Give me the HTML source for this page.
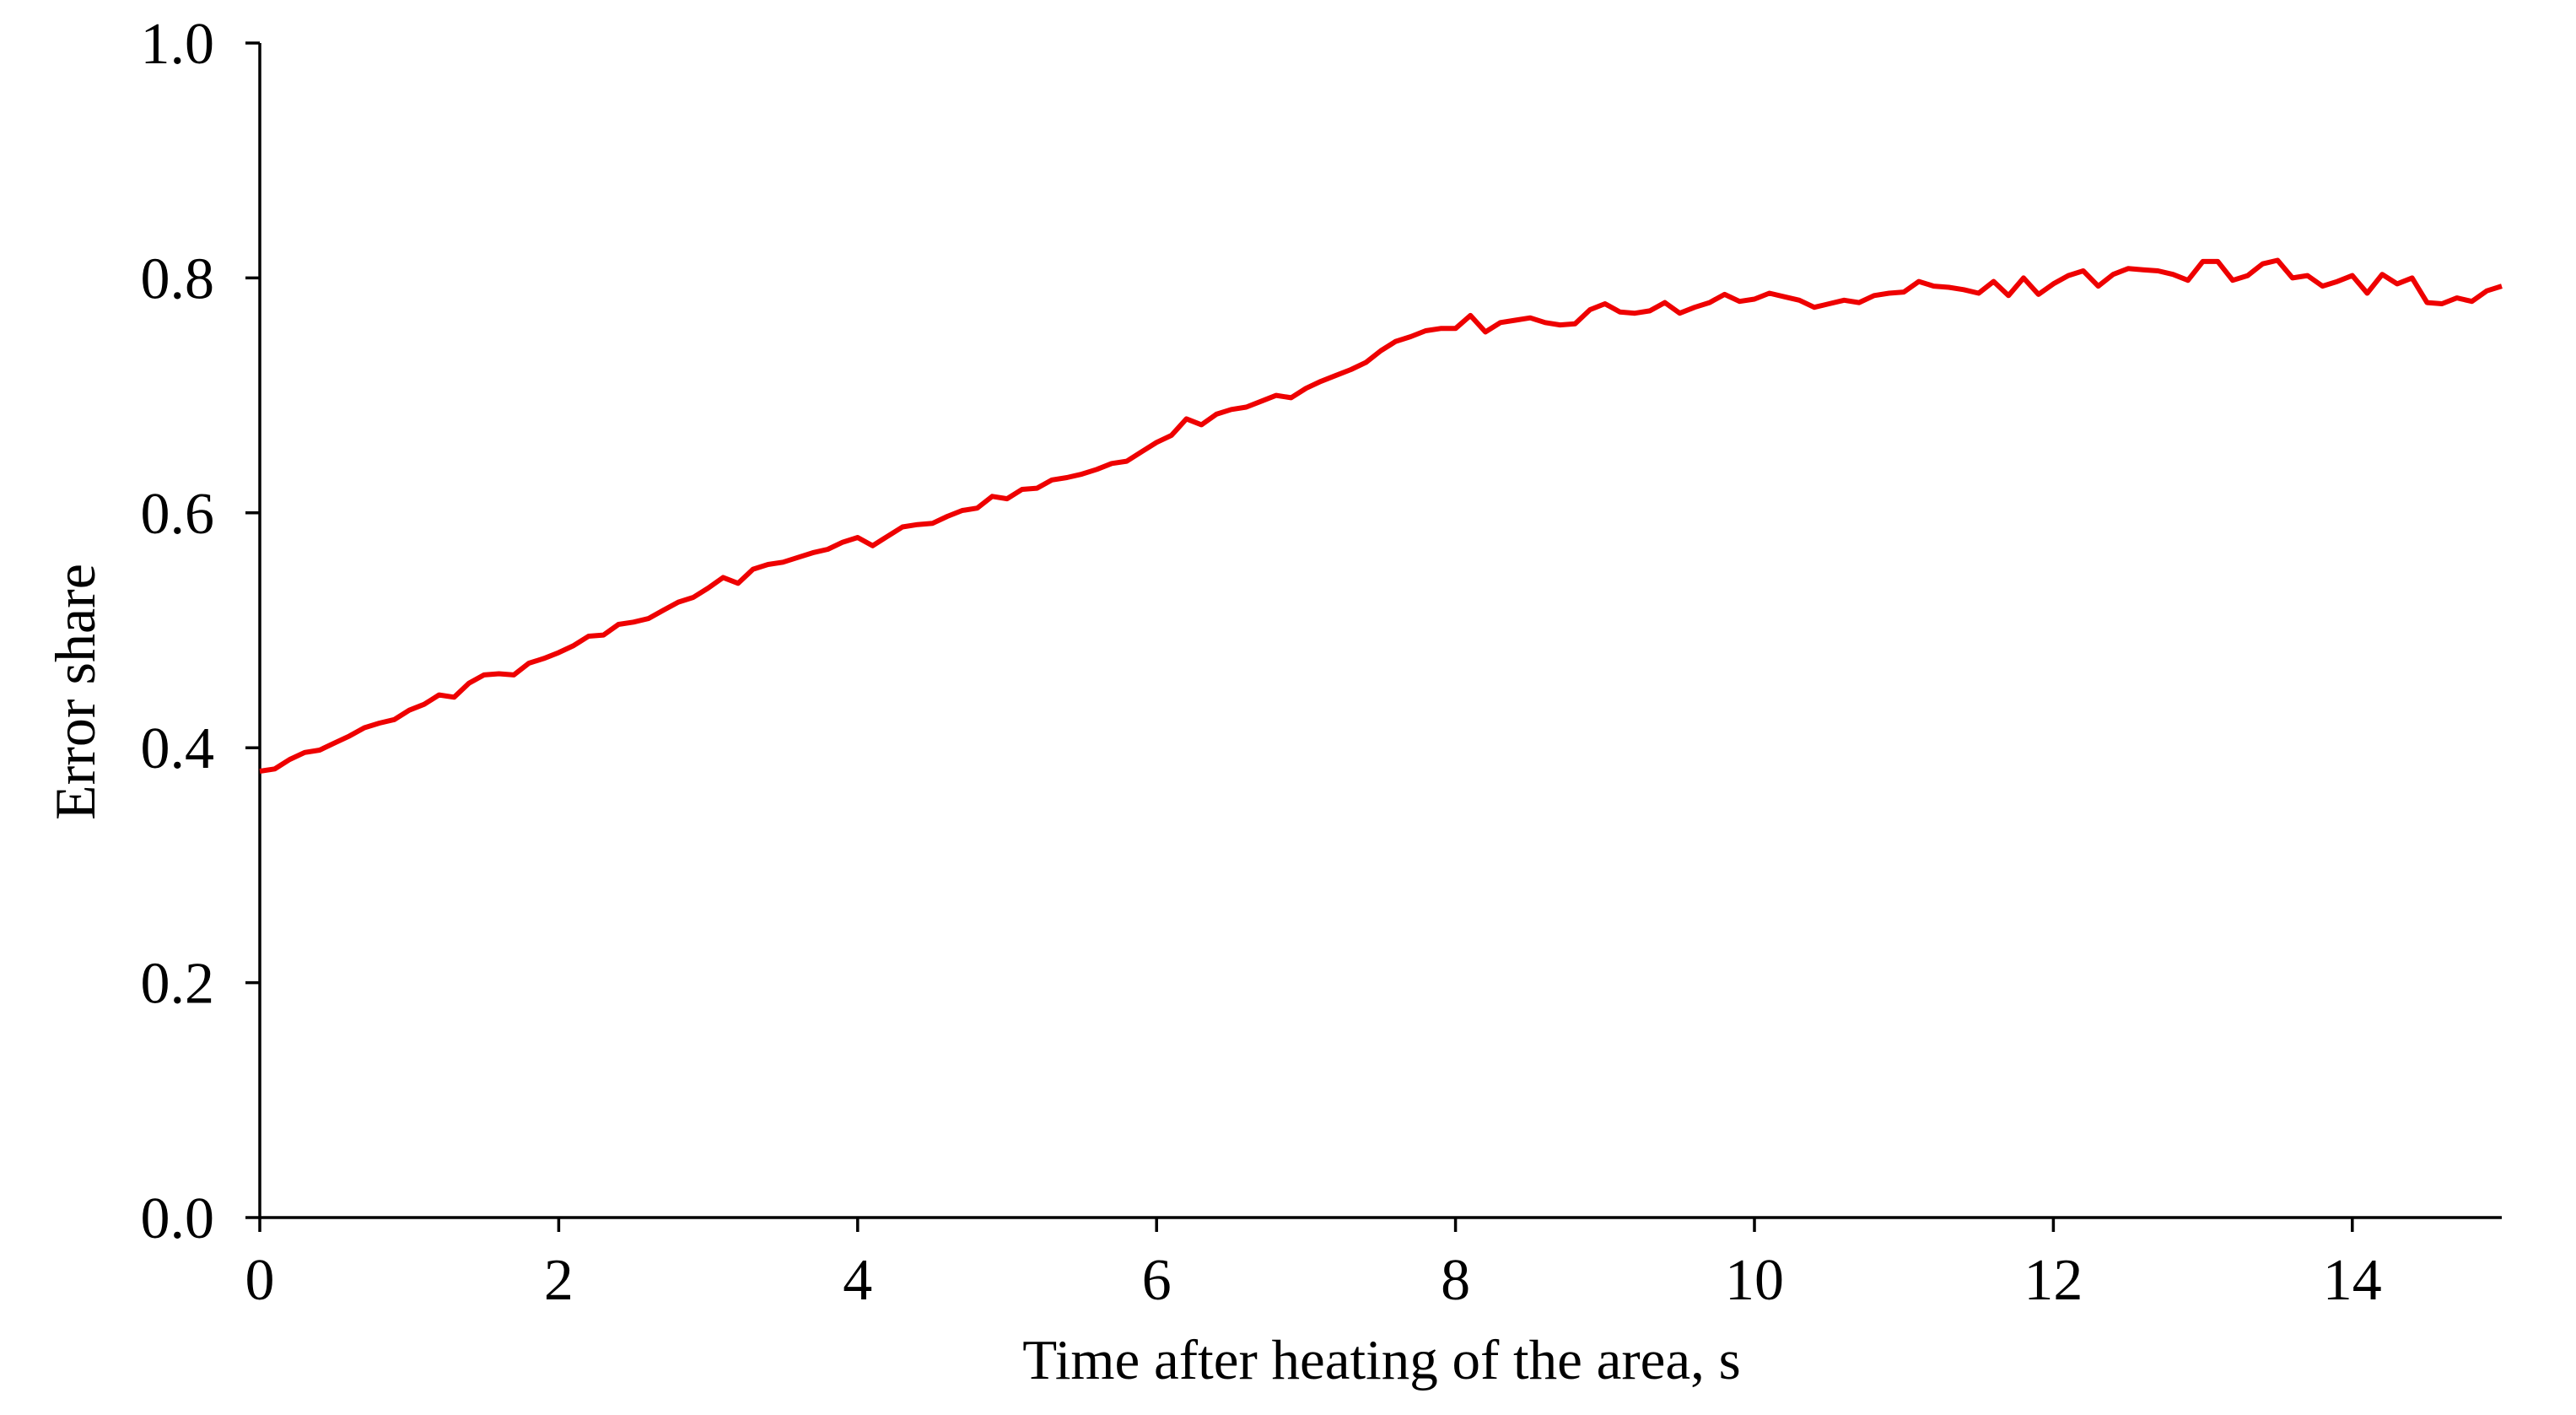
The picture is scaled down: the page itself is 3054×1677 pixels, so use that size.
<!DOCTYPE html>
<html><head><meta charset="utf-8"><style>
html,body{margin:0;padding:0;background:#fff;}
svg{display:block;font-family:"Liberation Serif",serif;}
</style></head><body>
<svg id="chart" width="3054" height="1677" viewBox="0 0 3054 1677" xmlns="http://www.w3.org/2000/svg">
<g id="axes"></g>
<g id="plot"></g>
<text x="0" y="0" font-size="68" text-anchor="middle" transform="translate(112,820) rotate(-90)">Error share</text>
<text x="1638" y="1634" font-size="67" text-anchor="middle">Time after heating of the area, s</text>
</svg>
<script>
const xTicks = [0, 2, 4, 6, 8, 10, 12, 14];
const yTicks = [0.0, 0.2, 0.4, 0.6, 0.8, 1.0];
const yTickLabels = ["0.0", "0.2", "0.4", "0.6", "0.8", "1.0"];
const timeStep = 0.1;
const errorShare = [
0.380,0.382,0.390,0.396,0.398,0.404,0.410,0.417,0.421,0.424,0.432,
0.437,0.445,0.443,0.455,0.462,0.463,0.462,0.472,0.476,0.481,
0.487,0.495,0.496,0.505,0.507,0.510,0.517,0.524,0.528,0.536,
0.545,0.540,0.552,0.556,0.558,0.562,0.566,0.569,0.575,0.579,
0.572,0.580,0.588,0.590,0.591,0.597,0.602,0.604,0.614,0.612,
0.620,0.621,0.628,0.630,0.633,0.637,0.642,0.644,0.652,0.660,
0.666,0.680,0.675,0.684,0.688,0.690,0.695,0.700,0.698,0.706,
0.712,0.717,0.722,0.728,0.738,0.746,0.750,0.755,0.757,0.757,
0.768,0.754,0.762,0.764,0.766,0.762,0.760,0.761,0.773,0.778,
0.771,0.770,0.772,0.779,0.770,0.775,0.779,0.786,0.780,0.782,
0.787,0.784,0.781,0.775,0.778,0.781,0.779,0.785,0.787,0.788,
0.797,0.793,0.792,0.790,0.787,0.797,0.785,0.800,0.786,0.795,
0.802,0.806,0.793,0.803,0.808,0.807,0.806,0.803,0.798,0.814,
0.814,0.798,0.802,0.812,0.815,0.800,0.802,0.793,0.797,0.802,
0.787,0.803,0.795,0.800,0.779,0.778,0.783,0.780,0.789,0.793
];
const NS = "http://www.w3.org/2000/svg";
const X0 = 308, X1 = 2966, Y0 = 1443, Y1 = 51;
const xMin = 0, xMax = 15, yMin = 0, yMax = 1;
function sx(v){ return X0 + (v - xMin) / (xMax - xMin) * (X1 - X0); }
function sy(v){ return Y0 - (v - yMin) / (yMax - yMin) * (Y0 - Y1); }
function mk(tag, attrs, parent){
  const e = document.createElementNS(NS, tag);
  for (const k in attrs) e.setAttribute(k, attrs[k]);
  parent.appendChild(e);
  return e;
}
const axes = document.getElementById('axes');
const plot = document.getElementById('plot');
let e = mk('line', {x1:X0, y1:Y1, x2:X0, y2:Y0, stroke:'#000', 'stroke-width':3.5}, axes);


e = mk('line', {x1:X0, y1:Y0, x2:X1, y2:Y0, stroke:'#000', 'stroke-width':3.5}, axes);


yTicks.forEach((v, i) => {
  const y = sy(v);
  const t = mk('line', {x1:X0-17, y1:y, x2:X0, y2:y, stroke:'#000', 'stroke-width':3.5}, axes);
  
  
  const l = mk('text', {x:254, y:y+24, 'font-size':70, 'text-anchor':'end'}, axes);
  l.textContent = yTickLabels[i];
  
  
});
xTicks.forEach(v => {
  const x = sx(v);
  const t = mk('line', {x1:x, y1:Y0, x2:x, y2:Y0+17, stroke:'#000', 'stroke-width':3.5}, axes);
  
  
  const l = mk('text', {x:x, y:1540, 'font-size':70, 'text-anchor':'middle'}, axes);
  l.textContent = String(v);
  
  
});
const pts = errorShare.map((v, i) => sx(i * timeStep).toFixed(1) + ',' + sy(v).toFixed(1)).join(' ');
const line = mk('polyline', {points: pts, fill:'none', stroke:'#ee0000', 'stroke-width':6, 'stroke-linejoin':'round'}, plot);


</script>
</body></html>
